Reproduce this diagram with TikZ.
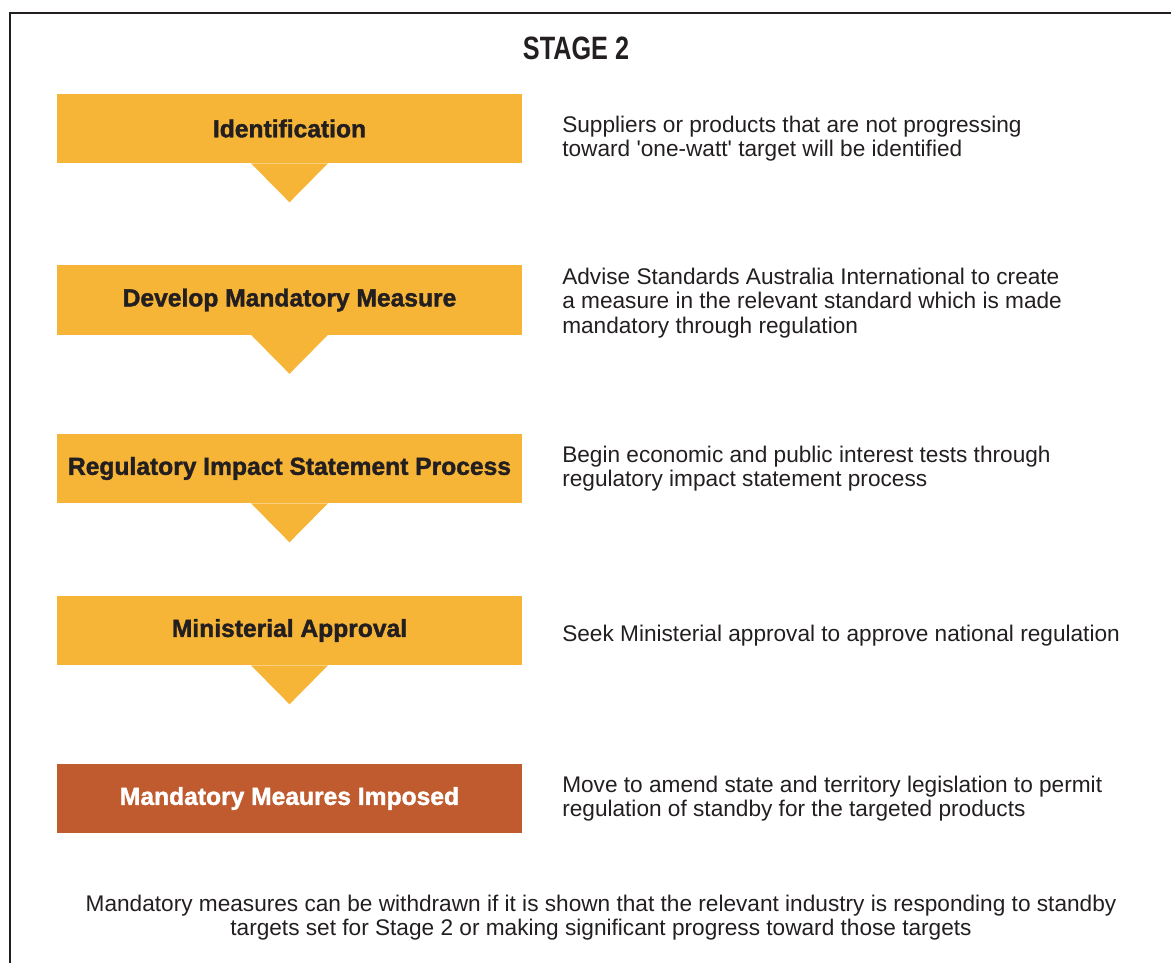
\documentclass[tikz,border=0pt]{standalone}
\usepackage{fontspec}
\setmainfont{Liberation Sans}
\newfontfamily\heavyfont[FakeBold=1.6]{Liberation Sans Bold}
\usetikzlibrary{positioning}

\definecolor{boxorange}{HTML}{F7B538}
\definecolor{boxrust}{HTML}{BF5B2F}
\definecolor{inkgray}{HTML}{231F20}

\tikzset{
  stepbox/.style={fill=boxorange, minimum width=11.625cm, minimum height=1.725cm,
    inner sep=0pt, text=inkgray, font=\fontsize{17.5}{18}\heavyfont},
  note/.style={anchor=west, align=left, inner sep=0pt, text=inkgray,
    font=\fontsize{16.1}{17.2}\selectfont},
}

% little arrow hanging under a step box
\newcommand{\pointer}[1]{%
  \fill[boxorange] ([xshift=-0.9625cm]#1.south) -- ([yshift=-0.975cm]#1.south)
    -- ([xshift=0.9625cm]#1.south) -- cycle;}

\begin{document}
\begin{tikzpicture}[x=0.025cm, y=-0.025cm]
\useasboundingbox (0,0) rectangle (1171,962);

% frame, open to the right and bottom
\node[coordinate] (f1) at (10,980) {};
\node[coordinate] (f2) at (10,13) {};
\node[coordinate] (f3) at (1190,13) {};
\draw[inkgray, line width=1.5pt] (f1)--(f2)--(f3);

\node[text=inkgray, font=\fontsize{23}{26}\selectfont\bfseries] (title) at (576,48)
  {\scalebox{0.78}[1]{STAGE 2}};

\node[stepbox] (ident) at (289.5,128.5) {Identification};
\node[stepbox] (develop) at (289.5,300) {Develop Mandatory Measure};
\node[stepbox] (ris) at (289.5,468.5) {Regulatory Impact Statement Process};
\node[stepbox] (approval) at (289.5,630.5) {Ministerial Approval};
\node[stepbox, fill=boxrust, text=white] (imposed) at (289.5,798.5) {Mandatory Meaures Imposed};

\pointer{ident}
\pointer{develop}
\pointer{ris}
\pointer{approval}

\node[note] (n1) at (562,139) {Suppliers or products that are not progressing\\toward \textquotesingle one-watt\textquotesingle\ target will be identified};
\node[note] (n2) at (562,303) {Advise Standards Australia International to create\\a measure in the relevant standard which is made\\mandatory through regulation};
\node[note] (n3) at (562,469) {Begin economic and public interest tests through\\regulatory impact statement process};
\node[note] (n4) at (562,636) {Seek Ministerial approval to approve national regulation};
\node[note] (n5) at (562,799) {Move to amend state and territory legislation to permit\\regulation of standby for the targeted products};

\node[note, anchor=center, align=center] (foot) at (601,918)
  {Mandatory measures can be withdrawn if it is shown that the relevant industry is responding to standby\\targets set for Stage 2 or making significant progress toward those targets};

\end{tikzpicture}
\end{document}
